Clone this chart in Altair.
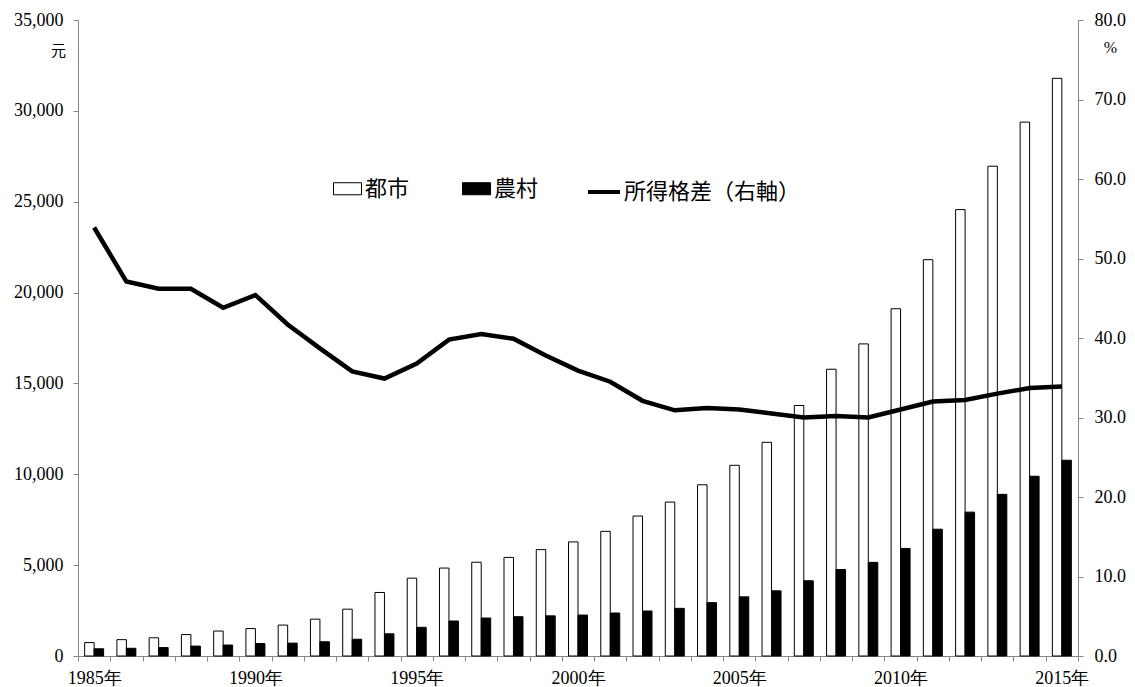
import altair as alt
import pandas as pd

years = [str(y) for y in range(1985, 2016)]
urban = [739, 900, 1002, 1180, 1374, 1510, 1701, 2027, 2577, 3496, 4283, 4839, 5160, 5425, 5854,
         6280, 6860, 7703, 8472, 9422, 10493, 11759, 13786, 15781, 17175, 19109, 21810, 24565,
         26955, 29381, 31790]
rural = [398, 424, 463, 545, 602, 686, 709, 784, 922, 1221, 1578, 1926, 2090, 2162, 2210,
         2253, 2366, 2476, 2622, 2936, 3255, 3587, 4140, 4761, 5153, 5919, 6977, 7917,
         8896, 9892, 10772]
gap = [53.9, 47.1, 46.2, 46.2, 43.8, 45.4, 41.7, 38.7, 35.8, 34.9, 36.8, 39.8, 40.5, 39.9, 37.8,
       35.9, 34.5, 32.1, 30.9, 31.2, 31.0, 30.5, 30.0, 30.2, 30.0, 31.0, 32.0, 32.2,
       33.0, 33.7, 33.9]
series_names = ["都市", "農村"]
line_name = "所得格差（右軸）"

bars = pd.DataFrame(
    [{"year": y, "series": series_names[0], "value": u} for y, u in zip(years, urban)]
    + [{"year": y, "series": series_names[1], "value": r} for y, r in zip(years, rural)]
)
line_df = pd.DataFrame({"year": years, "gap": gap, "label": line_name})

NUM_FONT = "Liberation Serif"
CJK_FONT = "Noto Sans CJK JP"
GRAY = "#868686"

x_enc = alt.X(
    "year:O",
    sort=years,
    scale=alt.Scale(paddingInner=0, paddingOuter=0),
    axis=alt.Axis(
        title=None, labelAngle=0, tickBand="extent", tickSize=5,
        domainColor=GRAY, tickColor=GRAY, labelColor="black",
        labelFont=NUM_FONT, labelFontSize=18, labelPadding=8,
        labelOverlap=False, labelFlush=False,
        labelExpr="(+datum.value) % 5 == 0 ? datum.value + '年' : ''",
    ),
)

bar_layer = alt.Chart(bars).mark_bar(stroke="black", strokeWidth=1).encode(
    x=x_enc,
    xOffset=alt.XOffset("series:N", sort=series_names,
                        scale=alt.Scale(paddingInner=0, paddingOuter=0.7)),
    y=alt.Y(
        "value:Q",
        scale=alt.Scale(domain=[0, 35000], nice=False),
        axis=alt.Axis(
            title="元", titleAngle=0, titleX=-20, titleY=30, titleAlign="center",
            titleBaseline="middle", titleFont=CJK_FONT, titleFontSize=15,
            titleFontWeight="normal", titleColor="black",
            values=list(range(0, 35001, 5000)), format=",.0f", grid=False,
            domainColor=GRAY, tickColor=GRAY, tickSize=5, labelColor="black",
            labelFont=NUM_FONT, labelFontSize=18, labelPadding=10,
        ),
    ),
    color=alt.Color(
        "series:N",
        scale=alt.Scale(domain=series_names, range=["white", "black"]),
        legend=alt.Legend(
            title=None, orient="none", legendX=255, legendY=154, direction="horizontal",
            symbolType="M-1,-0.43H1V0.43H-1Z", symbolSize=784,
            symbolStrokeColor="black", symbolStrokeWidth=1, symbolOpacity=1,
            labelFont=CJK_FONT, labelFontSize=22, labelColor="black", labelLimit=400,
            labelOffset=3, columnPadding=50, padding=0,
        ),
    ),
)

line_layer = alt.Chart(line_df).mark_line(strokeWidth=4.5, strokeJoin="miter").encode(
    x=alt.X("year:O", sort=years),
    y=alt.Y(
        "gap:Q",
        scale=alt.Scale(domain=[0, 80], nice=False),
        axis=alt.Axis(
            orient="right",
            title="%", titleAngle=0, titleX=32, titleY=27, titleAlign="center",
            titleBaseline="middle", titleFont=NUM_FONT, titleFontSize=16,
            titleFontWeight="normal", titleColor="black",
            values=list(range(0, 81, 10)), format=".1f", grid=False,
            domainColor=GRAY, tickColor=GRAY, tickSize=5, labelColor="black",
            labelFont=NUM_FONT, labelFontSize=18, labelPadding=11,
        ),
    ),
    stroke=alt.Stroke(
        "label:N",
        scale=alt.Scale(domain=[line_name], range=["black"]),
        legend=alt.Legend(
            title=None, orient="none", legendX=508, legendY=154, direction="horizontal",
            symbolType="stroke", symbolSize=1024, symbolStrokeWidth=4,
            symbolStrokeColor="black",
            labelFont=CJK_FONT, labelFontSize=22, labelColor="black", labelLimit=400,
            labelOffset=2, padding=0,
        ),
    ),
)

chart = (
    alt.layer(bar_layer, line_layer)
    .resolve_scale(y="independent")
    .properties(
        width=1000, height=636,
        autosize=alt.AutoSizeParams(type="none"),
        padding={"left": 70, "top": 12, "right": 49, "bottom": 31},
        background="white",
    )
    .configure_view(stroke=None)
)

chart.save("out.html", embed_options={"renderer": "svg", "actions": False})
